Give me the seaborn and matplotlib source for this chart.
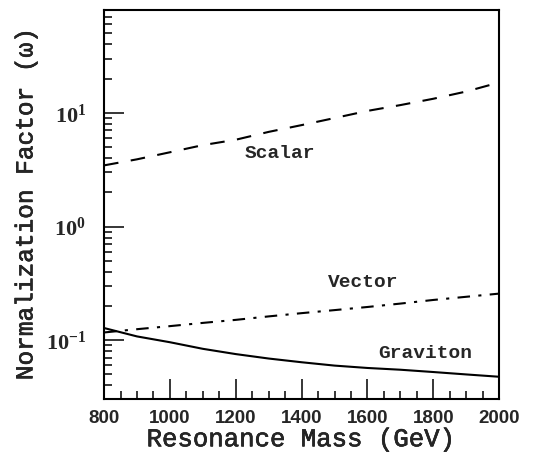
import numpy as np
import pandas as pd
import matplotlib
matplotlib.use("Agg")
import matplotlib.pyplot as plt
import matplotlib.patheffects as pe
import seaborn as sns
from matplotlib.ticker import MultipleLocator, LogLocator, FuncFormatter, NullFormatter

# values
mass = [800, 900, 1000, 1100, 1200, 1300, 1400, 1500, 1600, 1700, 1800, 1900, 2000]
scalar = [3.45, 3.9, 4.5, 5.2, 5.8, 6.8, 7.8, 9.0, 10.4, 11.7, 13.3, 15.4, 18.5]
vector = [0.117, 0.125, 0.133, 0.142, 0.151, 0.162, 0.173, 0.184, 0.196, 0.210, 0.226, 0.241, 0.257]
graviton = [0.128, 0.108, 0.096, 0.084, 0.0755, 0.069, 0.064, 0.0598, 0.0570, 0.0550, 0.0525, 0.0500, 0.0477]

labels = ["Scalar", "Vector", "Graviton"]
label_x = [1335, 1587, 1775]
label_y = [4.36, 0.324, 0.0768]

sns.set_style("ticks")
plt.rcParams["mathtext.fontset"] = "custom"
plt.rcParams["mathtext.rm"] = "Liberation Serif"
plt.rcParams["mathtext.bf"] = "Liberation Serif:bold"

df = pd.DataFrame({"mass": mass, "Scalar": scalar, "Vector": vector, "Graviton": graviton})

fig = plt.figure(figsize=(5.42, 4.62), dpi=100)
ax = fig.add_axes([0.192, 0.136, 0.729, 0.842])

sns.lineplot(data=df, x="mass", y="Scalar", ax=ax, color="black", lw=1.5,
             linestyle=(0, (7, 6)))
sns.lineplot(data=df, x="mass", y="Vector", ax=ax, color="black", lw=1.5,
             linestyle=(0, (6, 4, 1.5, 4)))
sns.lineplot(data=df, x="mass", y="Graviton", ax=ax, color="black", lw=1.5)

ax.set_yscale("log")
ax.set_xlim(800, 2000)
ax.set_ylim(0.0303, 80)

ax.xaxis.set_major_locator(MultipleLocator(200))
ax.xaxis.set_minor_locator(MultipleLocator(50))
ax.yaxis.set_major_locator(LogLocator(base=10))
ax.yaxis.set_minor_locator(LogLocator(base=10, subs=np.arange(2, 10)))
ax.yaxis.set_minor_formatter(NullFormatter())
ax.yaxis.set_major_formatter(FuncFormatter(lambda v, p: r"$\mathbf{10^{%d}}$" % round(np.log10(v))))

ax.tick_params(which="both", direction="in", top=False, right=False, width=1.1, color="black")
ax.tick_params(which="major", length=14.5)
ax.tick_params(which="minor", length=6)
ax.tick_params(axis="x", which="major", pad=8)
ax.tick_params(axis="y", which="major", pad=13)
for lab in ax.get_xticklabels():
    lab.set_fontfamily("Liberation Sans")
    lab.set_fontweight("bold")
    lab.set_fontsize(13.5)
for lab in ax.get_yticklabels():
    lab.set_fontsize(16)

for s in ax.spines.values():
    s.set_linewidth(1.5)
    s.set_color("black")

# Liberation Mono is thin, so thicken the axis titles a little
thick = [pe.withStroke(linewidth=0.4, foreground="black")]
ax.set_xlabel("Resonance Mass (GeV)", fontfamily="Liberation Mono",
              fontsize=18.5, labelpad=0, path_effects=thick)
ax.set_ylabel("Normalization Factor (ω)", fontfamily="Liberation Mono",
              fontsize=17.6, labelpad=6, path_effects=thick)

for t, x, y in zip(labels, label_x, label_y):
    ax.text(x, y, t, fontfamily="Liberation Mono", fontweight="bold", fontsize=14,
            ha="center", va="center")

fig.savefig("out.png", dpi=100)
